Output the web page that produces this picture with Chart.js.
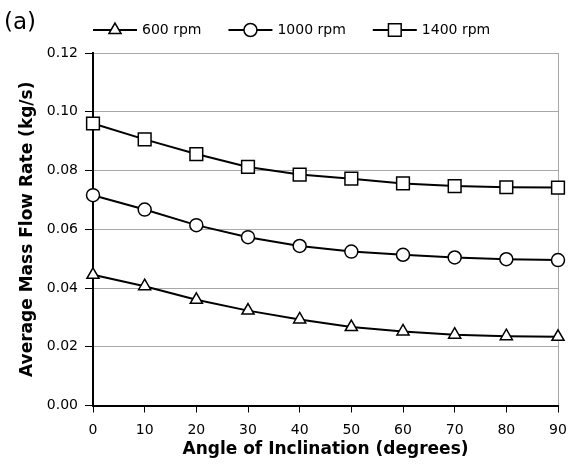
<!DOCTYPE html>
<html>
<head>
<meta charset="utf-8">
<script src="https://cdn.jsdelivr.net/npm/chart.js@4"></script>
<style>
  body { margin: 0; background: #fff; }
  #wrap { width: 569px; height: 468px; }
</style>
</head>
<body>
<div id="wrap"><canvas id="flowChart" width="569" height="468"></canvas></div>
<script>
// Values
var angles = [0, 10, 20, 30, 40, 50, 60, 70, 80, 90];
var rpm600 = [0.0445, 0.0406, 0.0360, 0.0323, 0.0293, 0.0267, 0.0252, 0.0241, 0.0236, 0.0234];
var rpm1000 = [0.0716, 0.0667, 0.0614, 0.0573, 0.0543, 0.0524, 0.0513, 0.0504, 0.0498, 0.0495];
var rpm1400 = [0.0960, 0.0906, 0.0856, 0.0812, 0.0786, 0.0772, 0.0756, 0.0747, 0.0743, 0.0742];
var seriesNames = ['600 rpm', '1000 rpm', '1400 rpm'];
var yTicks = [0, 0.02, 0.04, 0.06, 0.08, 0.10, 0.12];

var fontFamily = '"DejaVu Sans", Arial, sans-serif';
var gridGray = '#a8a8a8';

function makeSeries(label, data, style, radius) {
  return {
    label: label,
    data: data,
    borderColor: '#000',
    borderWidth: 2,
    pointStyle: style,
    pointRadius: radius,
    pointHoverRadius: radius,
    pointBackgroundColor: '#fff',
    pointBorderColor: '#000',
    pointBorderWidth: 1.5,
    tension: 0
  };
}

// Legend with a line through each marker, plus the "(a)" panel tag
var legendPlugin = {
  id: 'lineLegend',
  afterDraw: function(chart) {
    var ctx = chart.ctx;
    ctx.save();
    ctx.font = '23px ' + fontFamily;
    ctx.fillStyle = '#000';
    ctx.textBaseline = 'middle';
    ctx.textAlign = 'left';
    ctx.fillText('(a)', 4, 23);

    ctx.font = '14px ' + fontFamily;
    var x = 93, y = 30;
    chart.data.datasets.forEach(function(ds) {
      ctx.strokeStyle = '#000';
      ctx.lineWidth = 2;
      ctx.beginPath();
      ctx.moveTo(x, y);
      ctx.lineTo(x + 44, y);
      ctx.stroke();
      ctx.fillStyle = '#fff';
      ctx.lineWidth = 1.5;
      Chart.helpers.drawPoint(ctx, {
        pointStyle: ds.pointStyle,
        radius: ds.pointRadius,
        borderWidth: 1.5,
        rotation: 0
      }, x + 22, y);
      ctx.fillStyle = '#000';
      ctx.fillText(ds.label, x + 49, y);
      x = x + 49 + ctx.measureText(ds.label).width + 27;
    });
    ctx.restore();
  }
};

var ctx = document.getElementById('flowChart').getContext('2d');
var flowChart = new Chart(ctx, {
  type: 'line',
  data: {
    labels: angles,
    datasets: [
      makeSeries(seriesNames[0], rpm600, 'triangle', 7),
      makeSeries(seriesNames[1], rpm1000, 'circle', 6.5),
      makeSeries(seriesNames[2], rpm1400, 'rect', 9)
    ]
  },
  options: {
    responsive: false,
    animation: false,
    layout: { padding: { top: 53, right: 11, bottom: 0, left: 0 } },
    plugins: {
      legend: { display: false },
      tooltip: { enabled: false }
    },
    scales: {
      x: {
        type: 'category',
        offset: false,
        afterFit: function(scale) {
          scale.height = 62.5;
          scale.paddingRight = 0;
          scale.paddingLeft = 0;
        },
        grid: {
          color: function(c) { return c.index === angles.length - 1 ? gridGray : 'rgba(0,0,0,0)'; },
          tickColor: '#000',
          tickLength: 7,
          lineWidth: 1
        },
        border: { color: '#000', width: 2 },
        ticks: {
          color: '#000',
          padding: 9,
          maxRotation: 0,
          autoSkip: false,
          font: { family: fontFamily, size: 14 }
        },
        title: {
          display: true,
          text: 'Angle of Inclination (degrees)',
          color: '#000',
          padding: { top: 0, bottom: 8 },
          font: { family: fontFamily, size: 17, weight: 'bold' }
        }
      },
      y: {
        min: 0,
        max: 0.12,
        afterFit: function(scale) { scale.width = 93; },
        afterBuildTicks: function(scale) {
          scale.ticks = yTicks.map(function(v) { return { value: v }; });
        },
        grid: {
          color: gridGray,
          tickColor: '#000',
          tickLength: 8,
          lineWidth: 1
        },
        border: { color: '#000', width: 2 },
        ticks: {
          color: '#000',
          padding: 7,
          font: { family: fontFamily, size: 14 },
          callback: function(v) { return Number(v).toFixed(2); }
        },
        title: {
          display: true,
          text: 'Average Mass Flow Rate (kg/s)',
          color: '#000',
          padding: { top: 17, bottom: 0 },
          font: { family: fontFamily, size: 17, weight: 'bold' }
        }
      }
    }
  },
  plugins: [legendPlugin]
});
</script>
</body>
</html>
